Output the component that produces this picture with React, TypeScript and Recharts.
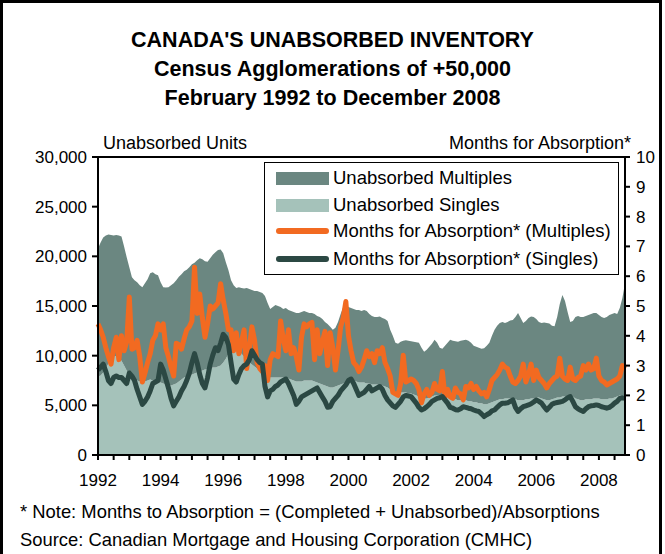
import React from "react";
import { ComposedChart, Area, Line, XAxis, YAxis, ReferenceArea } from "recharts";

// Monthly series, February 1992 .. December 2008 (one row per year)
const START_YEAR = 1992;
const START_MONTH = 2;

const singlesUnits = [
  7900, 8000, 8300, 8700, 9200, 9600, 9900, 10000, 9800, 9500, 9000,
  8500, 8000, 7700, 7600, 7500, 7400, 7300, 7400, 7500, 7600, 7500, 7400,
  7300, 7300, 7200, 7100, 7000, 7000, 7100, 7200, 7400, 7600, 7800, 7900,
  8000, 8100, 8200, 8300, 8400, 8500, 8600, 8600, 8700, 8800, 8800, 8900,
  9000, 9300, 9700, 10200, 10600, 10800, 10700, 10500, 10200, 9900, 9600, 9300,
  9100, 8900, 8700, 8500, 8300, 8100, 7900, 7800, 7800, 7800, 7800, 7800,
  7800, 7700, 7700, 7600, 7500, 7400, 7400, 7400, 7500, 7500, 7500, 7500,
  7400, 7300, 7200, 7100, 7000, 6900, 6800, 6800, 6900, 7000, 7100, 7200,
  7300, 7400, 7500, 7500, 7400, 7300, 7300, 7300, 7200, 7200, 7100, 7100,
  7100, 7000, 7000, 6900, 6800, 6600, 6400, 6300, 6300, 6300, 6300, 6300,
  6200, 6200, 6100, 6000, 5900, 5800, 5700, 5700, 5800, 5900, 6000, 6000,
  6000, 6000, 5900, 5800, 5700, 5600, 5600, 5500, 5500, 5500, 5500, 5400,
  5400, 5300, 5300, 5200, 5200, 5100, 5100, 5200, 5300, 5400, 5500, 5600,
  5600, 5700, 5700, 5700, 5700, 5600, 5500, 5500, 5500, 5600, 5600, 5700,
  5700, 5800, 5800, 5700, 5600, 5500, 5500, 5600, 5700, 5800, 5800, 5900,
  5900, 6000, 6000, 5900, 5700, 5600, 5500, 5500, 5600, 5600, 5600, 5700,
  5700, 5700, 5600, 5600, 5600, 5700, 5700, 5800, 5900, 6000, 6000, 6100,
];

const multiplesUnits = [
  12900, 13400, 13600, 13400, 13000, 12550, 12200, 12150, 12300, 12500, 12000,
  11400, 10900, 10200, 10000, 9900, 9700, 9600, 9900, 10200, 10700, 10900, 10800,
  10800, 10100, 9700, 9750, 9900, 10100, 10200, 10400, 10550, 10600, 10700, 10750,
  10900, 11100, 11150, 11300, 11400, 11200, 10900, 10850, 11100, 11350, 11600, 11750,
  11700, 11000, 9700, 8400, 7000, 6300, 6100, 6400, 6600, 6850, 7200, 7400,
  7500, 7600, 7800, 7900, 8000, 7900, 7400, 6900, 7100, 7300, 7200, 7100,
  6900, 7100, 6900, 6900, 6900, 6900, 6900, 7000, 7000, 6900, 6800, 6800,
  6800, 6700, 6700, 6600, 6400, 6300, 6100, 5800, 5900, 6400, 7100, 7700,
  7700, 7500, 7300, 7200, 7200, 7300, 7200, 7300, 7300, 7000, 6900, 6800,
  6800, 6950, 6800, 6800, 6700, 6000, 5600, 5000, 4900, 5100, 5200, 5250,
  5300, 5250, 5300, 5350, 5400, 5000, 4700, 4900, 5100, 5300, 5600, 5300,
  4800, 4700, 5100, 5500, 5900, 5900, 5850, 5900, 6000, 6050, 6100, 6100,
  5900, 5700, 5600, 5600, 5500, 5650, 5900, 6100, 6700, 7200, 7500, 7700,
  7800, 7600, 7700, 7850, 7900, 8300, 8800, 8300, 7800, 7900, 8200, 8250,
  8200, 7900, 7600, 7600, 7750, 7800, 7750, 7400, 7250, 8100, 9400, 10200,
  9600, 8400, 7400, 7600, 8200, 8400, 8400, 8400, 8400, 8500, 8600, 8600,
  8600, 8400, 8300, 8200, 8300, 8400, 8500, 8500, 8300, 8800, 9800, 11200,
];

const multiplesMonths = [
  4.4, 4.2, 3.95, 3.6, 3.3, 3.05, 3.6, 3.95, 3.2, 4.0, 3.5,
  3.8, 5.3, 3.55, 3.6, 3.85, 3.3, 2.45, 2.75, 3.1, 3.4, 3.85, 4.0,
  4.4, 4.2, 4.4, 3.6, 3.3, 2.95, 2.65, 3.75, 3.7, 3.55, 3.9, 4.2,
  4.3, 4.5, 6.3, 4.75, 5.4, 4.6, 3.95, 4.4, 5.0, 4.9, 5.0, 5.1,
  5.75, 5.2, 4.75, 4.2, 4.2, 3.5, 4.1, 3.4, 3.8, 4.2, 2.9, 3.6,
  4.3, 3.85, 3.1, 2.9, 2.8, 3.0, 2.5, 3.2, 3.4, 3.35, 3.3, 4.5,
  3.9, 3.5, 4.2, 3.4, 3.6, 3.3, 2.85, 3.95, 4.4, 4.3, 4.4, 4.45,
  3.2, 4.2, 3.4, 3.8, 4.15, 3.0, 4.1, 3.6, 2.85, 3.5, 4.3, 4.6,
  5.15, 4.0, 3.5, 3.1, 3.0, 2.8, 2.95, 3.2, 3.5, 3.3, 3.4, 3.1,
  3.5, 3.4, 3.6, 3.1, 2.9, 2.65, 2.1, 2.05, 2.0, 2.4, 3.35, 2.45,
  2.5, 2.55, 2.5, 2.4, 2.2, 1.75, 2.05, 2.2, 2.0, 2.1, 2.4, 2.2,
  2.15, 2.8, 1.95, 2.2, 1.95, 1.9, 2.25, 2.1, 2.05, 1.85, 2.3, 2.25,
  2.4, 2.2, 2.3, 2.15, 2.05, 2.1, 1.95, 2.2, 2.5, 2.6, 2.7, 2.85,
  3.05, 2.95, 2.9, 2.65, 2.45, 2.4, 2.5, 2.65, 3.05, 2.45, 2.7, 3.05,
  2.5, 2.85, 2.6, 2.5, 2.4, 2.25, 2.4, 2.5, 2.6, 2.65, 3.25, 2.65,
  2.55, 2.5, 2.95, 2.55, 2.5, 2.6, 2.65, 3.0, 2.85, 3.05, 2.85, 2.9,
  3.25, 2.65, 2.5, 2.45, 2.35, 2.4, 2.45, 2.5, 2.55, 2.65, 3.0, 2.9,
];

const singlesMonths = [
  2.85, 2.95, 3.05, 2.8, 2.5, 2.4, 2.6, 2.65, 2.6, 2.6, 2.5,
  2.4, 2.75, 2.65, 2.5, 2.2, 1.95, 1.7, 1.8, 1.95, 2.15, 2.4, 2.45,
  2.5, 3.05, 2.85, 2.55, 2.25, 1.9, 1.65, 1.8, 1.95, 2.15, 2.3, 2.5,
  2.75, 3.1, 3.4, 3.1, 2.7, 2.4, 2.25, 2.6, 3.05, 3.35, 3.6, 3.5,
  3.75, 4.05, 3.95, 3.7, 3.1, 2.55, 2.45, 2.7, 2.9, 3.0, 3.05, 3.2,
  3.5, 3.35, 3.2, 3.1, 3.05, 2.3, 1.95, 2.15, 2.2, 2.3, 2.35, 2.45,
  2.5, 2.55, 2.4, 2.2, 2.0, 1.7, 1.8, 1.95, 2.0, 2.05, 2.1, 2.15,
  2.2, 2.25, 2.1, 1.95, 1.8, 1.6, 1.62, 1.8, 1.9, 2.0, 2.15, 2.25,
  2.35, 2.5, 2.55, 2.4, 2.2, 2.0, 2.05, 2.1, 2.2, 2.3, 2.15, 2.2,
  2.25, 2.3, 2.2, 2.0, 1.85, 1.75, 1.65, 1.6, 1.7, 1.8, 1.95, 2.0,
  1.98, 1.96, 1.85, 1.74, 1.6, 1.51, 1.55, 1.62, 1.7, 1.8, 1.85, 1.9,
  1.92, 1.96, 1.85, 1.74, 1.6, 1.57, 1.52, 1.51, 1.55, 1.62, 1.6, 1.57,
  1.55, 1.51, 1.48, 1.46, 1.38, 1.29, 1.35, 1.4, 1.48, 1.51, 1.6, 1.68,
  1.74, 1.74, 1.75, 1.8, 1.85, 1.6, 1.46, 1.55, 1.62, 1.65, 1.68, 1.72,
  1.78, 1.85, 1.8, 1.74, 1.62, 1.51, 1.6, 1.7, 1.74, 1.76, 1.78, 1.8,
  1.85, 1.92, 1.96, 1.8, 1.62, 1.55, 1.5, 1.46, 1.55, 1.62, 1.65, 1.66,
  1.68, 1.66, 1.62, 1.6, 1.57, 1.6, 1.66, 1.74, 1.8, 1.9, 1.92, 1.9,
];

const unitTicks = [0, 5000, 10000, 15000, 20000, 25000, 30000];
const monthTicks = [0, 1, 2, 3, 4, 5, 6, 7, 8, 9, 10];

const FONT = '"Liberation Sans", Arial, Helvetica, sans-serif';
const DARK_AREA = "#6b8781";
const LIGHT_AREA = "#a5c2ba";
const ORANGE = "#f26a21";
const DARK_LINE = "#2b4843";

const months: string[] = singlesUnits.map((_, i) => {
  const m = START_MONTH - 1 + i;
  const y = START_YEAR + Math.floor(m / 12);
  return `${y}-${String((m % 12) + 1).padStart(2, "0")}`;
});

const data = months.map((m, i) => ({
  m,
  singles: singlesUnits[i],
  multiples: multiplesUnits[i],
  multMonths: multiplesMonths[i],
  singMonths: singlesMonths[i],
}));

// tick marks every 6 months, year label every 24
const xTicks = months.filter((_, i) => i % 6 === 0);
const xLabel = (v: string) => (months.indexOf(v) % 24 === 0 ? v.slice(0, 4) : "");

const tickStyle = { fill: "#000", fontSize: 17, fontFamily: FONT };

function Txt({ x, y, size, bold, align, children }: any) {
  const style: React.CSSProperties = {
    position: "absolute",
    top: y - size / 2,
    fontSize: size,
    lineHeight: `${size}px`,
    fontWeight: bold ? "bold" : "normal",
    whiteSpace: "nowrap",
    color: "#000",
  };
  if (align === "center") {
    style.left = 0;
    style.width = 665;
    style.textAlign = "center";
  } else if (align === "right") {
    style.right = 665 - x;
  } else {
    style.left = x;
  }
  return <div style={style}>{children}</div>;
}

function LegendRow({ y, kind, color, label }: any) {
  return (
    <>
      {kind === "area" ? (
        <div style={{ position: "absolute", left: 276, top: y - 6.5, width: 53, height: 13, background: color }} />
      ) : (
        <div style={{ position: "absolute", left: 276, top: y - 3, width: 53, height: 6, borderRadius: 3, background: color }} />
      )}
      <Txt x={333} y={y} size={18.5}>{label}</Txt>
    </>
  );
}

export default function App() {
  return (
    <div
      style={{
        position: "absolute",
        left: 0,
        top: 0,
        width: 665,
        height: 554,
        overflow: "hidden",
        background: "#fff",
        fontFamily: FONT,
      }}
    >
      <div
        style={{
          position: "absolute",
          left: 0,
          top: 0,
          width: 656,
          height: 560,
          borderLeft: "3px solid #000",
          borderTop: "3px solid #000",
          borderRight: "3px solid #000",
        }}
      />
      <div style={{ position: "absolute", left: 0, top: 0 }}>
        <ComposedChart
          width={665}
          height={554}
          data={data}
          margin={{ top: 157, right: 0, bottom: 69, left: 0 }}
        >
          <XAxis
            dataKey="m"
            ticks={xTicks}
            interval={0}
            tickFormatter={xLabel}
            tick={tickStyle}
            tickSize={5}
            tickMargin={14}
            height={30}
            axisLine={{ stroke: "#000", strokeWidth: 2 }}
            tickLine={{ stroke: "#000", strokeWidth: 2 }}
          />
          <YAxis
            yAxisId="u"
            domain={[0, 30000]}
            ticks={unitTicks}
            tickFormatter={(v: number) => v.toLocaleString("en-US")}
            width={98}
            tick={tickStyle}
            tickSize={6}
            tickMargin={5}
            axisLine={{ stroke: "#000", strokeWidth: 2 }}
            tickLine={{ stroke: "#000", strokeWidth: 2 }}
          />
          <YAxis
            yAxisId="mo"
            orientation="right"
            domain={[0, 10]}
            ticks={monthTicks}
            width={40}
            tick={tickStyle}
            tickSize={5}
            tickMargin={6}
            axisLine={{ stroke: "#000", strokeWidth: 2 }}
            tickLine={{ stroke: "#000", strokeWidth: 2 }}
          />
          <Area
            yAxisId="u"
            type="linear"
            dataKey="singles"
            stackId="units"
            stroke="none"
            fill={LIGHT_AREA}
            fillOpacity={1}
            isAnimationActive={false}
          />
          <Area
            yAxisId="u"
            type="linear"
            dataKey="multiples"
            stackId="units"
            stroke="none"
            fill={DARK_AREA}
            fillOpacity={1}
            isAnimationActive={false}
          />
          <Line
            yAxisId="mo"
            type="linear"
            dataKey="multMonths"
            stroke={ORANGE}
            strokeWidth={5}
            strokeLinejoin="round"
            dot={false}
            activeDot={false}
            isAnimationActive={false}
          />
          <Line
            yAxisId="mo"
            type="linear"
            dataKey="singMonths"
            stroke={DARK_LINE}
            strokeWidth={5}
            strokeLinejoin="round"
            dot={false}
            activeDot={false}
            isAnimationActive={false}
          />
          <ReferenceArea
            yAxisId="u"
            x1={months[0]}
            x2={months[months.length - 1]}
            y1={0}
            y2={30000}
            fill="none"
            fillOpacity={0}
            stroke="#000"
            strokeWidth={2}
          />
        </ComposedChart>
      </div>

      <Txt y={41} size={21.5} bold align="center">CANADA'S UNABSORBED INVENTORY</Txt>
      <Txt y={70} size={21.5} bold align="center">Census Agglomerations of +50,000</Txt>
      <Txt y={99} size={21.5} bold align="center">February 1992 to December 2008</Txt>

      <Txt x={103} y={143} size={18}>Unabsorbed Units</Txt>
      <Txt x={631} y={143} size={18} align="right">Months for Absorption*</Txt>

      <div
        style={{
          position: "absolute",
          left: 264,
          top: 162,
          width: 353,
          height: 111,
          border: "1.5px solid #000",
          background: "#fff",
        }}
      />
      <LegendRow y={178} kind="area" color={DARK_AREA} label="Unabsorbed Multiples" />
      <LegendRow y={205} kind="area" color={LIGHT_AREA} label="Unabsorbed Singles" />
      <LegendRow y={231} kind="line" color={ORANGE} label="Months for Absorption* (Multiples)" />
      <LegendRow y={259} kind="line" color={DARK_LINE} label="Months for Absorption* (Singles)" />

      <Txt x={20} y={512} size={18.4}>* Note: Months to Absorption = (Completed + Unabsorbed)/Absorptions</Txt>
      <Txt x={20} y={540} size={18.4}>Source: Canadian Mortgage and Housing Corporation (CMHC)</Txt>
    </div>
  );
}
